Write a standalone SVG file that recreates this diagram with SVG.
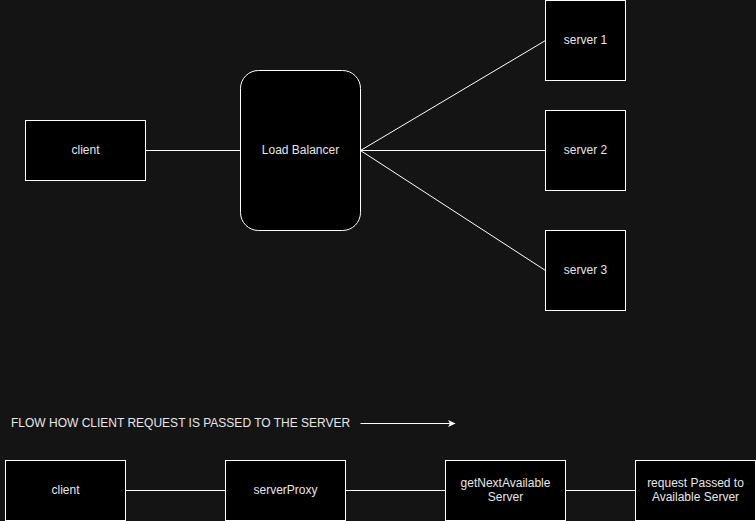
<svg xmlns="http://www.w3.org/2000/svg" width="756" height="521" viewBox="0 0 756 521">
<style>
.box{fill:#000;stroke:#fff;stroke-width:1}
.t{font-family:"Liberation Sans",Arial,sans-serif;font-size:12px;fill:#e6e6e6;text-anchor:middle}
.e{stroke:#fff;stroke-width:1;fill:none}
</style>
<defs>
<marker id="ah" markerWidth="8" markerHeight="8" refX="7" refY="4" orient="auto" markerUnits="userSpaceOnUse">
<path d="M0,0.5 L7.5,4 L0,7.5 L2,4 Z" fill="#fff"/>
</marker>
</defs>
<rect width="756" height="521" fill="#141414"/>
<g id="connectors">
<line class="e" x1="145.5" y1="150.5" x2="240.5" y2="150.5"/>
<line class="e" x1="360.5" y1="150.5" x2="545.5" y2="40.5"/>
<line class="e" x1="360.5" y1="150.5" x2="545.5" y2="150.5"/>
<line class="e" x1="360.5" y1="150.5" x2="545.5" y2="270.5"/>
<line class="e" x1="125.5" y1="490.5" x2="225.5" y2="490.5"/>
<line class="e" x1="345.5" y1="490.5" x2="445.5" y2="490.5"/>
<line class="e" x1="565.5" y1="490.5" x2="635.5" y2="490.5"/>
<line class="e" x1="360.5" y1="423.5" x2="455" y2="423.5" marker-end="url(#ah)"/>
</g>
<g id="client"><rect class="box" x="25.5" y="120.5" width="120" height="60"/><text class="t" x="85.5" y="154">client</text></g>
<g id="lb"><rect class="box" x="240.5" y="70.5" width="120" height="160" rx="18"/><text class="t" x="300.5" y="154">Load Balancer</text></g>
<g id="s1"><rect class="box" x="545.5" y="0.5" width="80" height="80"/><text class="t" x="585.5" y="44">server 1</text></g>
<g id="s2"><rect class="box" x="545.5" y="110.5" width="80" height="80"/><text class="t" x="585.5" y="154">server 2</text></g>
<g id="s3"><rect class="box" x="545.5" y="230.5" width="80" height="80"/><text class="t" x="585.5" y="274">server 3</text></g>
<g id="flowlabel"><text class="t" x="11" y="427" style="text-anchor:start">FLOW HOW CLIENT REQUEST IS PASSED TO THE SERVER</text></g>
<g id="b1"><rect class="box" x="5.5" y="460.5" width="120" height="60"/><text class="t" x="65.5" y="494">client</text></g>
<g id="b2"><rect class="box" x="225.5" y="460.5" width="120" height="60"/><text class="t" x="285.5" y="494">serverProxy</text></g>
<g id="b3"><rect class="box" x="445.5" y="460.5" width="120" height="60"/><text class="t" x="505.5" y="487">getNextAvailable</text><text class="t" x="505.5" y="501">Server</text></g>
<g id="b4"><rect class="box" x="635.5" y="460.5" width="120" height="60"/><text class="t" x="695.5" y="487">request Passed to</text><text class="t" x="695.5" y="501">Available Server</text></g>
</svg>
